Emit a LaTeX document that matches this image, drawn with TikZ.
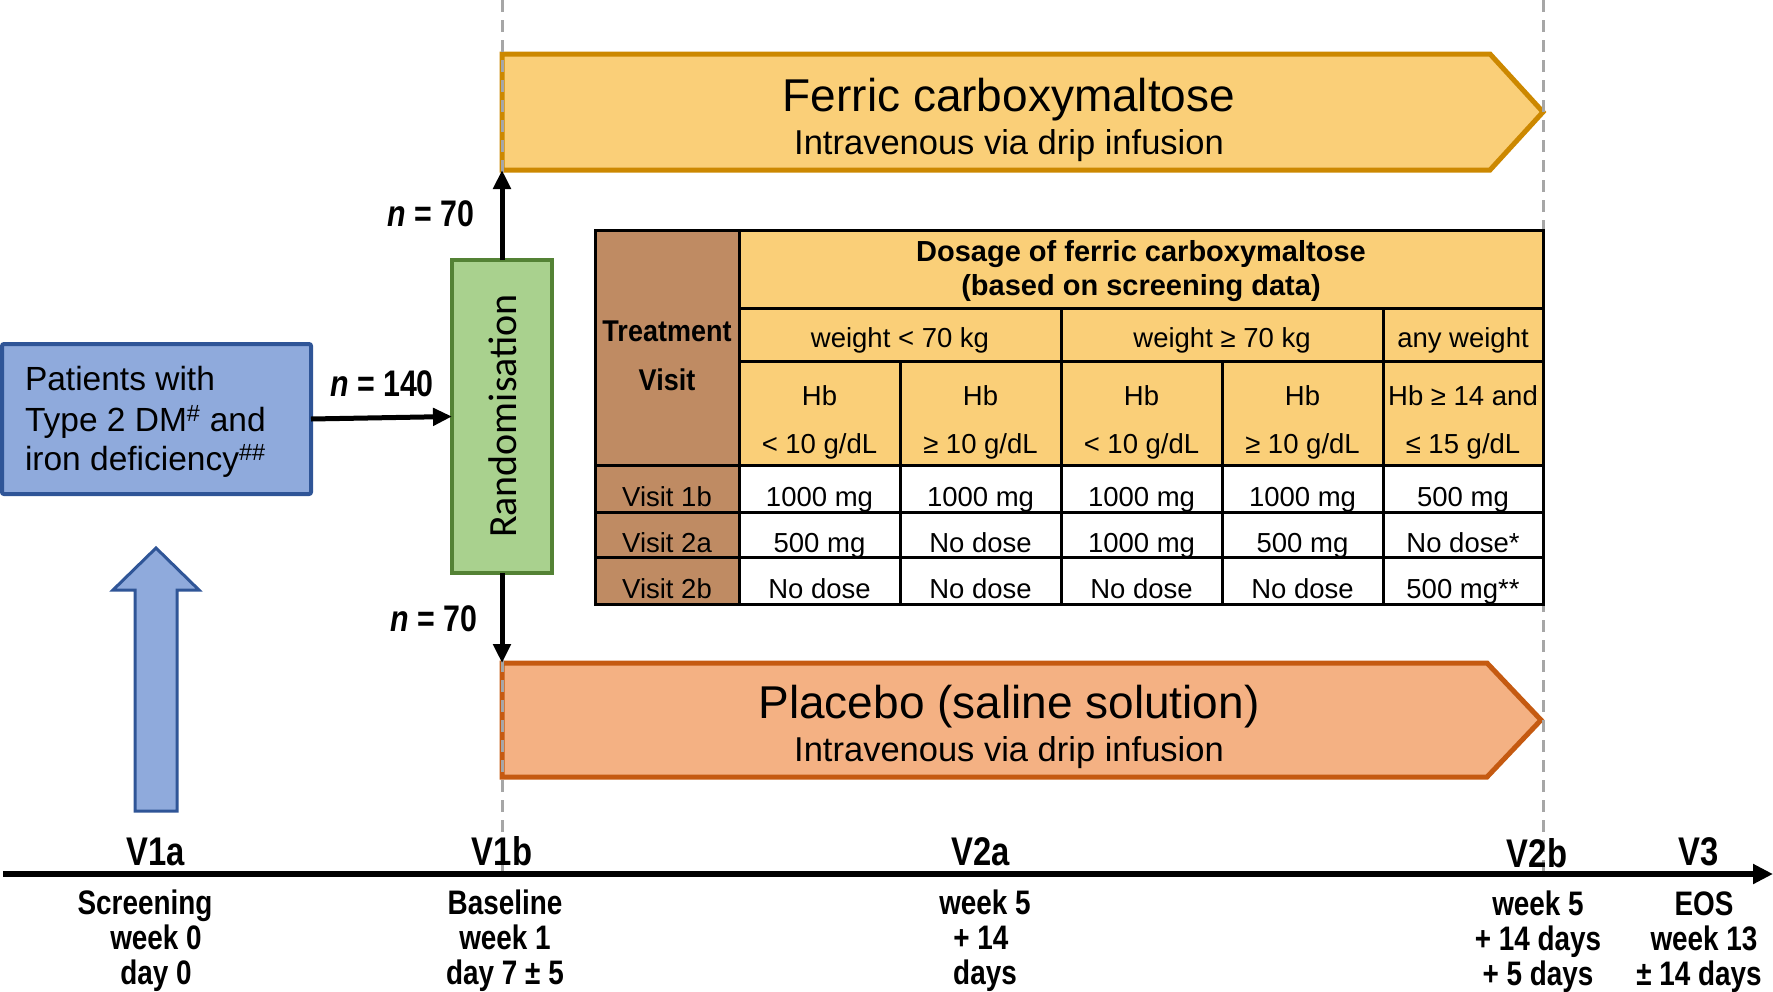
\documentclass[tikz,border=0pt]{standalone}
\usepackage{fontspec}
\setmainfont{Liberation Sans}
\newfontfamily\narrowfont[FakeStretch=0.82]{Liberation Sans}
\newfontfamily\tnarrowfont[FakeStretch=0.9]{Liberation Sans}
\newfontfamily\calfont{Carlito}
\usetikzlibrary{arrows.meta}
\definecolor{ferricfill}{HTML}{FACF78}
\definecolor{ferricdk}{HTML}{CC8800}
\definecolor{placfill}{HTML}{F4B183}
\definecolor{placdk}{HTML}{C55A11}
\definecolor{bluefill}{HTML}{8FAADC}
\definecolor{bluedk}{HTML}{2F5597}
\definecolor{greenfill}{HTML}{A9D18E}
\definecolor{greendk}{HTML}{548235}
\definecolor{tbrown}{HTML}{BF8B63}
\definecolor{dashgray}{HTML}{A6A6A6}
\begin{document}
\begin{tikzpicture}[x=1pt,y=-1pt,
  every node/.style={inner sep=0pt, outer sep=0pt},
  tcell/.style={anchor=base, font=\fontsize{27.5}{33}\selectfont},
  thead/.style={anchor=base, font=\fontsize{29}{34}\selectfont\bfseries},
  tvisit/.style={anchor=base, font=\tnarrowfont\fontsize{30}{36}\selectfont\bfseries},
  vlabel/.style={anchor=base, font=\narrowfont\fontsize{40}{48}\selectfont\bfseries},
  tlabel/.style={anchor=base, font=\narrowfont\fontsize{34}{40}\selectfont\bfseries},
  nlabel/.style={anchor=base, font=\narrowfont\fontsize{37}{44}\selectfont\bfseries},
  boxtext/.style={anchor=base west, font=\fontsize{33.5}{40}\selectfont},
  armtitle/.style={anchor=base, font=\fontsize{46}{55}\selectfont},
  armsub/.style={anchor=base, font=\fontsize{34.5}{41}\selectfont},
  flow/.style={line width=5pt, -{Triangle[length=19pt,width=17pt]}},
  dashline/.style={dashgray, line width=3pt, dash pattern=on 12pt off 8pt},
  tline/.style={line width=3pt, black},
]
\useasboundingbox (0,0) rectangle (1773,991);

% ---------- arm arrows ----------
\draw[ferricdk, fill=ferricfill, line width=5pt, line join=miter]
  (502,54) -- (1490,54) -- (1543,112) -- (1490,170) -- (502,170) -- cycle;
\coordinate (fca) at (502,170);
\node[armtitle] (ftitle) at (1009,111) {Ferric carboxymaltose};
\node[armsub] (fsub) at (1009,154) {Intravenous via drip infusion};

\draw[placdk, fill=placfill, line width=5pt, line join=miter]
  (502,663) -- (1487,663) -- (1541,720) -- (1487,777) -- (502,777) -- cycle;
\coordinate (pla) at (502,663);
\node[armtitle] (ptitle) at (1009,718) {Placebo (saline solution)};
\node[armsub] (psub) at (1009,761) {Intravenous via drip infusion};

% ---------- dashed guide lines ----------
\coordinate (d1t) at (502,0);
\coordinate (d1b) at (502,874);
\coordinate (d2t) at (1543,0);
\coordinate (d2b) at (1543,874);
\draw[dashline] (d1t) -- (d1b);
\draw[dashline] (d2t) -- (d2b);

% ---------- patients box and up arrow ----------
\node[draw=bluedk, fill=bluefill, line width=4pt, rounded corners=2pt,
      minimum width=309pt, minimum height=150pt] (pat) at (156.5,419) {};
\node[boxtext] (pt1) at (25,390) {Patients with};
\node[boxtext] (pt2) at (25,431) {Type 2 DM\textsuperscript{\#} and};
\node[boxtext] (pt3) at (25,470) {iron deficiency\textsuperscript{\#\#}};

\draw[bluedk, fill=bluefill, line width=3pt, line join=miter]
  (156,548) -- (199,590) -- (177,590) -- (177,811) -- (135,811) -- (135,590) -- (113,590) -- cycle;

% ---------- randomisation ----------
\node[draw=greendk, fill=greenfill, line width=4pt,
      minimum width=100pt, minimum height=313pt] (rand) at (502,416.5) {};
\node[rotate=90, font=\calfont\fontsize{40}{48}\selectfont] (randtxt) at (503,416) {Randomisation};

\draw[flow] (pat.east) -- (rand.west);
\draw[flow] (rand.north) -- (fca);
\draw[flow] (rand.south) -- (pla);
\node[nlabel] (n140) at (382,396) {{\itshape n} = 140};
\node[nlabel] (n70a) at (431,226) {{\itshape n} = 70};
\node[nlabel] (n70b) at (434,631) {{\itshape n} = 70};

% ---------- table ----------
\fill[ferricfill] (739,230) rectangle (1543,465);
\fill[tbrown] (595,230) rectangle (739,604);
\fill[white] (739,465) rectangle (1543,604);
\draw[tline] (595,230) rectangle (1543,604);
\draw[tline] (739,230) -- (739,604);
\draw[tline] (739,308) -- (1543,308);
\draw[tline] (739,361) -- (1543,361);
\draw[tline] (595,465) -- (1543,465);
\draw[tline] (595,512) -- (1543,512);
\draw[tline] (595,557) -- (1543,557);
\draw[tline] (1061,308) -- (1061,604);
\draw[tline] (1383,308) -- (1383,604);
\draw[tline] (900,361) -- (900,604);
\draw[tline] (1222,361) -- (1222,604);

\node[thead] (dos1) at (1141,261) {Dosage of ferric carboxymaltose};
\node[thead] (dos2) at (1141,295) {(based on screening data)};
\node[tvisit] (treat) at (667,341) {Treatment};
\node[tvisit] (visit) at (667,390) {Visit};

\node[tcell] (w1) at (900,347) {weight < 70 kg};
\node[tcell] (w2) at (1222,347) {weight ≥ 70 kg};
\node[tcell] (w3) at (1463,347) {any weight};

\node[tcell] (hb1a) at (819.5,405) {Hb};
\node[tcell] (hb1b) at (819.5,453) {< 10 g/dL};
\node[tcell] (hb2a) at (980.5,405) {Hb};
\node[tcell] (hb2b) at (980.5,453) {≥ 10 g/dL};
\node[tcell] (hb3a) at (1141.5,405) {Hb};
\node[tcell] (hb3b) at (1141.5,453) {< 10 g/dL};
\node[tcell] (hb4a) at (1302.5,405) {Hb};
\node[tcell] (hb4b) at (1302.5,453) {≥ 10 g/dL};
\node[tcell] (hb5a) at (1463,405) {Hb ≥ 14 and};
\node[tcell] (hb5b) at (1463,453) {≤ 15 g/dL};

\node[tcell] (v1) at (667,506.5) {Visit 1b};
\node[tcell] (v2) at (667,552) {Visit 2a};
\node[tcell] (v3) at (667,598) {Visit 2b};

\node[tcell] (r1c1) at (819.5,506.5) {1000 mg};
\node[tcell] (r1c2) at (980.5,506.5) {1000 mg};
\node[tcell] (r1c3) at (1141.5,506.5) {1000 mg};
\node[tcell] (r1c4) at (1302.5,506.5) {1000 mg};
\node[tcell] (r1c5) at (1463,506.5) {500 mg};

\node[tcell] (r2c1) at (819.5,552) {500 mg};
\node[tcell] (r2c2) at (980.5,552) {No dose};
\node[tcell] (r2c3) at (1141.5,552) {1000 mg};
\node[tcell] (r2c4) at (1302.5,552) {500 mg};
\node[tcell] (r2c5) at (1463,552) {No dose*};

\node[tcell] (r3c1) at (819.5,598) {No dose};
\node[tcell] (r3c2) at (980.5,598) {No dose};
\node[tcell] (r3c3) at (1141.5,598) {No dose};
\node[tcell] (r3c4) at (1302.5,598) {No dose};
\node[tcell] (r3c5) at (1463,598) {500 mg**};

% ---------- timeline ----------
\coordinate (ax0) at (3,874);
\coordinate (ax1) at (1773,874);
\draw[line width=6pt, -{Triangle[length=20pt,width=19pt]}] (ax0) -- (ax1);

\node[vlabel] (V1a) at (156,865) {V1a};
\node[vlabel] (V1b) at (502,865) {V1b};
\node[vlabel] (V2a) at (981,865) {V2a};
\node[vlabel] (V2b) at (1537,867) {V2b};
\node[vlabel] (V3)  at (1699,865) {V3};

\node[tlabel] (s1) at (145,914) {Screening};
\node[tlabel] (s2) at (156,949) {week 0};
\node[tlabel] (s3) at (156,984) {day 0};

\node[tlabel] (b1) at (505,914) {Baseline};
\node[tlabel] (b2) at (505,949) {week 1};
\node[tlabel] (b3) at (505,984) {day 7 ± 5};

\node[tlabel] (a1) at (985,914) {week 5};
\node[tlabel] (a2) at (981,949) {+ 14};
\node[tlabel] (a3) at (985,984) {days};

\node[tlabel] (c1) at (1538,915) {week 5};
\node[tlabel] (c2) at (1538,950) {+ 14 days};
\node[tlabel] (c3) at (1538,985) {+ 5 days};

\node[tlabel] (e1) at (1704,915) {EOS};
\node[tlabel] (e2) at (1704,950) {week 13};
\node[tlabel] (e3) at (1699,985) {± 14 days};
\end{tikzpicture}
\end{document}
